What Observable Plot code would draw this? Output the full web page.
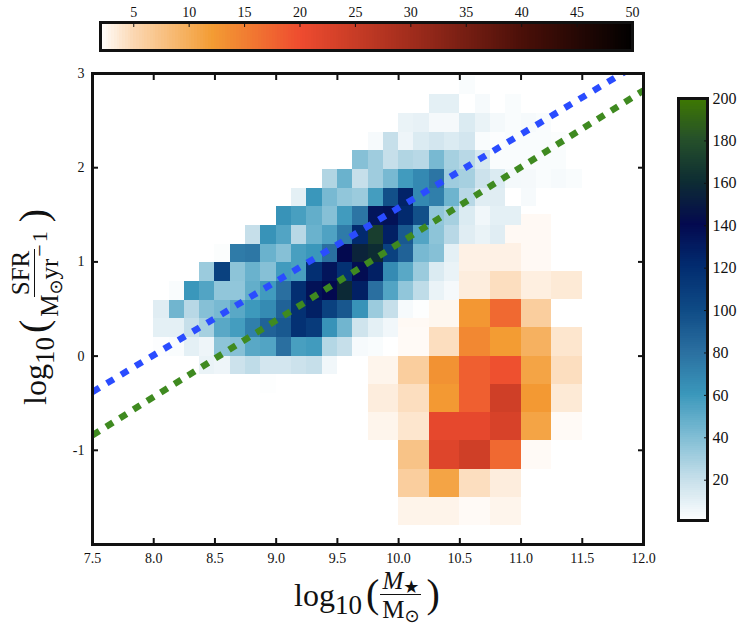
<!DOCTYPE html>
<html>
<head>
<meta charset="utf-8">
<script src="https://cdn.jsdelivr.net/npm/d3@7"></script>
<script src="https://cdn.jsdelivr.net/npm/@observablehq/plot@0.6"></script>
<style>
  body { margin: 0; background: #fff; }
  #page { position: relative; width: 747px; height: 626px; overflow: hidden; font-family: "Liberation Serif", serif; color: #111; }
  #page svg { position: absolute; left: 0; top: 0; background: transparent; }
  .lab { position: absolute; display: flex; align-items: center; white-space: nowrap; font-size: 32px; line-height: 1; }
  .lab sub { font-size: 27px; line-height: 1; position: relative; top: 10px; vertical-align: baseline; }
  .paren { font-size: 40px; font-weight: 100; position: relative; top: -1px; margin-left: 4px; }
  .frac { display: inline-flex; flex-direction: column; align-items: center; font-size: 25px; margin: 0 1px; }
  .frac > span:first-child { border-bottom: 1.5px solid #111; padding: 0 2px 1px; }
  .frac > span:last-child { padding: 2px 2px 0; }
  .frac small { font-size: 18px; position: relative; top: 4px; font-family: "DejaVu Sans", sans-serif; }
  .frac sup { font-size: 22px; line-height: 0; position: relative; top: -2px; margin-left: 2px; letter-spacing: 2px; }
</style>
</head>
<body>
<div id="page">
  <div class="lab" id="xlab"><span>log</span><sub>10</sub><span class="paren">(</span><span class="frac"><span><i>M</i><small>★</small></span><span>M<small>⊙</small></span></span><span class="paren">)</span></div>
  <div class="lab" id="ylab"><span>log</span><sub>10</sub><span class="paren">(</span><span class="frac"><span>SFR</span><span>M<small>⊙</small>yr<sup>−1</sup></span></span><span class="paren">)</span></div>
</div>
<script>
// axes
const xTicks = [7.5, 8, 8.5, 9, 9.5, 10, 10.5, 11, 11.5, 12]
const xLabels = ['7.5', '8.0', '8.5', '9.0', '9.5', '10.0', '10.5', '11.0', '11.5', '12.0']
const yTicks = [3, 2, 1, 0, -1]
const yLabels = ['3', '2', '1', '0', '-1']

// colour bars
const orangeStops = [2, 5, 12, 20, 30, 40, 50]
const orangeColors = ['#fffdfb', '#fbd6b0', '#f39c33', '#ee4b2f', '#a02c1c', '#4a0f08', '#000000']
const orangeTicks = [5, 10, 15, 20, 25, 30, 35, 40, 45, 50]
const blueStops = [0, 20, 40, 60, 80, 100, 120, 140, 160, 180, 200]
const blueColors = ['#ffffff', '#c6dfea', '#7fbdd4', '#3a97bb', '#2a6fa0', '#0e4a85', '#022c70', '#03094f', '#0d2c33', '#25502a', '#3f7a00']
const blueTicks = [20, 40, 60, 80, 100, 120, 140, 160, 180, 200]

// quiescent counts, top row first, columns start at 9.75 (0.25 dex wide, 0.3 dex tall)
const orangeRows = [
  [null, null, null, null, 2.3, 2.3, null],
  [null, null, null, 2.9, 2.9, 2.3, null],
  [null, null, null, 3.2, 4.4, 3.1, 3.5],
  [null, 2.3, 2.5, 12.5, 17, 6, null],
  [null, 2.2, 4.4, 14, 12, 9.5, 3.8],
  [2.6, 6, 13, 18, 19.5, 11, 4.4],
  [3.2, 4.4, 12.3, 18, 24, 12.3, 3.5],
  [2.6, 3.8, 21, 21, 23, 11, 2.2],
  [null, 7.3, 22, 24, 17, 2.2, null],
  [null, 6, 11, 4.4, 3.2, null, null],
  [null, 2.7, 2.7, 2.2, 2.6, null, null]
]

// star forming counts, top row first, blueStart = first column of the row (0.125 dex wide, from 7.5)
const blueStart = [24, 22, 20, 18, 17, 15, 13, 12, 10, 8, 7, 5, 4, 4, 4, 7, 11]
const blueRows = [
  [2],
  [9.5, 9.5, 0, 3, 0, 2],
  [7.5, 8.5, 3.5, 3.5, 12.5, 7.5, 4, 2, 3, 2],
  [3, 20, 6, 12.5, 15.5, 12.5, 15.5, 2, 1, 2, 2, 2, 1.5],
  [38, 31, 20, 26, 24, 42, 29, 24, 14, 2, 2, 2, 2, 2],
  [26, 46, 20, 31, 42, 58, 67, 77, 31, 29, 18, 12.5, 4, 3.5, 2, 3, 2],
  [9.5, 60, 42, 35, 32, 57, 97, 125, 67, 72, 45, 24, 11, 11, 0, 3],
  [62, 56, 48, 38, 58, 77, 133, 135, 121, 97, 35, 29, 12.5, 5, 9.5, 9.5],
  [20, 62, 53, 24, 46, 54, 74, 121, 170, 127, 92, 53, 36, 24, 11, 7.5, 11],
  [1.5, 74, 76, 46, 38, 56, 60, 80, 140, 155, 160, 106, 87, 42, 38, 9.5],
  [32, 106, 36, 46, 38, 58, 56, 118, 133, 117, 138, 127, 66, 51, 32, 12.5, 7.5],
  [2, 60, 53, 35, 35, 48, 58, 80, 119, 135, 140, 158, 127, 80, 53, 35, 22, 7.5, 3.5],
  [11, 44, 24, 38, 42, 51, 59, 66, 87, 117, 127, 106, 93, 62, 32, 20, 3, 0.6],
  [9.5, 9.5, 20, 29, 51, 57, 72, 87, 92, 117, 110, 62, 44, 17, 9.5, 5],
  [1, 2, 9.5, 6, 36, 38, 51, 53, 80, 56, 58, 25, 20, 3, 2, 0],
  [7.5, 6, 18, 22, 15.5, 15.5, 18, 20, 5],
  [0.8]
]

// fitted relations
const blueLine = [{x: 7.5, y: -0.38}, {x: 11.85, y: 3.02}]
const greenLine = [{x: 7.5, y: -0.84}, {x: 12, y: 2.82}]

const orangeColor = d3.scaleLinear().domain(orangeStops).range(orangeColors).clamp(true)
const blueColor = d3.scaleLinear().domain(blueStops).range(blueColors).clamp(true)

let orangeCells = []
orangeRows.forEach((row, i) => row.forEach((v, j) => {
  if (v != null) orangeCells.push({x1: 9.75 + j * 0.25, x2: 10 + j * 0.25, y1: 1.2 - i * 0.3, y2: 1.5 - i * 0.3, v})
}))
let blueCells = []
blueRows.forEach((row, i) => row.forEach((v, j) => {
  let c = blueStart[i] + j
  if (v > 0) blueCells.push({x1: 7.5 + c * 0.125, x2: 7.625 + c * 0.125, y1: (14 - i) * 0.198, y2: (15 - i) * 0.198, v})
}))

const page = document.getElementById('page')
const font = {fontFamily: '"Liberation Serif", serif', fontSize: '14px', color: '#111', background: 'transparent'}

let chart = Plot.plot({
  width: 747, height: 626,
  marginLeft: 92, marginRight: 104, marginTop: 73, marginBottom: 82,
  style: font,
  x: {domain: [7.5, 12]},
  y: {domain: [-2, 3]},
  marks: [
    Plot.rect(orangeCells, {x1: 'x1', x2: 'x2', y1: 'y1', y2: 'y2', fill: d => orangeColor(d.v), shapeRendering: 'crispEdges'}),
    Plot.rect(blueCells, {x1: 'x1', x2: 'x2', y1: 'y1', y2: 'y2', fill: d => blueColor(d.v), shapeRendering: 'crispEdges'}),
    Plot.line(blueLine, {x: 'x', y: 'y', stroke: '#2a4cff', strokeWidth: 6.5, strokeLinecap: 'butt', strokeDasharray: '8,8.7', clip: true}),
    Plot.line(greenLine, {x: 'x', y: 'y', stroke: '#3f8a20', strokeWidth: 6.5, strokeLinecap: 'butt', strokeDasharray: '8,8.1', clip: true}),
    Plot.axisX(xTicks, {anchor: 'bottom', tickSize: 0, tickPadding: 9, label: null, tickFormat: d => xLabels[xTicks.indexOf(d)]}),
    Plot.axisX(xTicks, {anchor: 'bottom', tickSize: -6, strokeWidth: 2, fill: 'none', label: null}),
    Plot.axisX(xTicks, {anchor: 'top', tickSize: -6, strokeWidth: 2, fill: 'none', label: null}),
    Plot.axisY(yTicks, {anchor: 'left', tickSize: 0, tickPadding: 8, label: null, tickFormat: d => yLabels[yTicks.indexOf(d)]}),
    Plot.axisY(yTicks, {anchor: 'left', tickSize: -6, strokeWidth: 2, fill: 'none', label: null}),
    Plot.axisY(yTicks, {anchor: 'right', tickSize: -6, strokeWidth: 2, fill: 'none', label: null}),
    Plot.frame({stroke: '#111', strokeWidth: 3})
  ]
})
page.append(chart)

// top colour bar
let topBar = Plot.plot({
  width: 747, height: 60,
  marginLeft: 100, marginRight: 115, marginTop: 22, marginBottom: 10,
  style: font,
  x: {domain: [2, 50]},
  marks: [
    Plot.rect(d3.range(2, 50, 0.25), {x1: d => d, x2: d => d + 0.25, fill: d => orangeColor(d), shapeRendering: 'crispEdges'}),
    Plot.axisX(orangeTicks, {anchor: 'top', tickSize: 0, tickPadding: 6, label: null}),
    Plot.axisX(orangeTicks, {anchor: 'top', tickSize: -4, fill: 'none', label: null}),
    Plot.frame({stroke: '#111', strokeWidth: 3})
  ]
})
page.append(topBar)

// right colour bar
let sideBar = Plot.plot({
  width: 747, height: 626,
  marginLeft: 678, marginRight: 40, marginTop: 98, marginBottom: 106,
  style: {...font, fontSize: '16px'},
  y: {domain: [1, 200]},
  marks: [
    Plot.rect(d3.range(1, 200, 1), {y1: d => d, y2: d => d + 1, fill: d => blueColor(d), shapeRendering: 'crispEdges'}),
    Plot.axisY(blueTicks, {anchor: 'right', tickSize: 0, tickPadding: 5, label: null}),
    Plot.axisY(blueTicks, {anchor: 'right', tickSize: -4, fill: 'none', label: null}),
    Plot.frame({stroke: '#111', strokeWidth: 3})
  ]
})
page.append(sideBar)

const xlab = document.getElementById('xlab')
const ylab = document.getElementById('ylab')
xlab.style.left = '294px'
xlab.style.top = '568px'
ylab.style.left = '40px'
ylab.style.top = '320px'
ylab.style.transformOrigin = '0 0'
ylab.style.transform = 'rotate(-90deg) translate(-85px, -32px)'
</script>
</body>
</html>
